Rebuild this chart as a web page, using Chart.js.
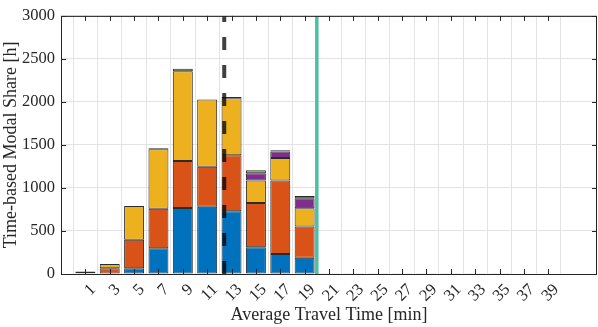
<!DOCTYPE html>
<html>
<head>
<meta charset="utf-8">
<script src="https://cdn.jsdelivr.net/npm/chart.js@4.4.1/dist/chart.umd.min.js"></script>
<style>
html,body{margin:0;padding:0;background:#fff;}
#wrap{width:598px;height:327px;}
</style>
</head>
<body>
<div id="wrap"><canvas id="c" width="598" height="327"></canvas></div>
<script>
// Data
const categories = [1,3,5,7,9,11,13,15,17,19,21,23,25,27,29,31,33,35,37,39];
const seriesBlue   = [0,0,67,300,768,783,730,311,232,188,4,4,4,4,4,4,4,4,0,0];
const seriesOrange = [10,67,330,457,544,465,649,513,855,363,0,0,0,0,0,0,0,0,0,0];
const seriesYellow = [20,49,393,694,1045,779,663,263,262,213,0,0,0,0,0,0,0,0,0,0];
const seriesPurple = [0,0,0,0,0,0,0,85,75,116,0,0,0,0,0,0,0,0,0,0];
const seriesGreen  = [0,0,0,10,30,0,15,34,15,27,0,0,0,0,0,0,0,0,0,0];
const yTicks = [0,500,1000,1500,2000,2500,3000];
const meanTime = 12.4;     // dashed line
const limitTime = 20;      // green line

const FONT = "'Liberation Serif', 'DejaVu Serif', serif";
const TXT = '#262626';

function toXY(arr){ return categories.map((c,i)=>({x:c,y:arr[i]})); }
function barDs(arr,color){
  return {type:'bar', data:toXY(arr), backgroundColor:color, borderColor:'rgba(20,20,20,0.9)',
    borderWidth:1, borderSkipped:false, stack:'s', order:2,
    barPercentage:0.82, categoryPercentage:1};
}

const boxPlugin = {
  id:'box',
  afterDraw(chart){
    const {ctx, chartArea:a, scales} = chart;
    ctx.save();
    ctx.strokeStyle = TXT; ctx.lineWidth = 1;
    ctx.strokeRect(a.left+0.5, a.top+0.5, a.right-a.left-1, a.bottom-a.top);
    ctx.beginPath();
    categories.forEach(c=>{
      const x = Math.round(scales.x.getPixelForValue(c))+0.5;
      ctx.moveTo(x,a.bottom); ctx.lineTo(x,a.bottom-5);
      ctx.moveTo(x,a.top); ctx.lineTo(x,a.top+5);
    });
    yTicks.forEach(v=>{
      const y = Math.round(scales.y.getPixelForValue(v))+0.5;
      ctx.moveTo(a.left,y); ctx.lineTo(a.left+5,y);
      ctx.moveTo(a.right,y); ctx.lineTo(a.right-5,y);
    });
    ctx.stroke();
    ctx.restore();
  }
};

new Chart(document.getElementById('c'), {
  data:{
    datasets:[
      barDs(seriesBlue,'#0072BD'),
      barDs(seriesOrange,'#D95319'),
      barDs(seriesYellow,'#EDB120'),
      barDs(seriesPurple,'#7E2F8E'),
      barDs(seriesGreen,'#77AC30'),
      {type:'line', data:[{x:meanTime,y:0},{x:meanTime,y:3000}], borderColor:'rgba(0,0,0,0.75)',
        borderWidth:4, borderDash:[13,15], pointRadius:0, stack:'l1', order:0, fill:false},
      {type:'line', data:[{x:limitTime,y:0},{x:limitTime,y:3000}], borderColor:'#4DBFA3',
        borderWidth:3.5, pointRadius:0, stack:'l2', order:0, fill:false}
    ]
  },
  options:{
    responsive:false, animation:false,
    layout:{padding:{top:7,right:1,left:0,bottom:0}},
    plugins:{legend:{display:false}, tooltip:{enabled:false}},
    scales:{
      x:{
        type:'linear', min:-1, max:43, offset:false,
        afterBuildTicks(s){ s.ticks = categories.map(v=>({value:v})); },
        afterFit(s){ s.height = 53; },
        grid:{color:'#e3e3e3', drawTicks:false},
        border:{display:false},
        ticks:{font:{family:FONT,size:16.5}, color:TXT, minRotation:45, maxRotation:45, padding:6, labelOffset:8, autoSkip:false,
          callback:v=>String(v)},
        title:{display:true, text:'Average Travel Time [min]', font:{family:FONT,size:18}, color:TXT, padding:{top:0,bottom:1}}
      },
      y:{
        stacked:true, min:0, max:3000,
        afterBuildTicks(s){ s.ticks = yTicks.map(v=>({value:v})); },
        afterFit(s){ s.width = 61; },
        grid:{color:'#e3e3e3', drawTicks:false},
        border:{display:false},
        ticks:{font:{family:FONT,size:16.5}, color:TXT, padding:6, callback:v=>String(v)},
        title:{display:true, text:'Time-based Modal Share [h]', font:{family:FONT,size:18}, color:TXT, padding:{top:0,bottom:0}}
      }
    }
  },
  plugins:[boxPlugin]
});
</script>
</body>
</html>
